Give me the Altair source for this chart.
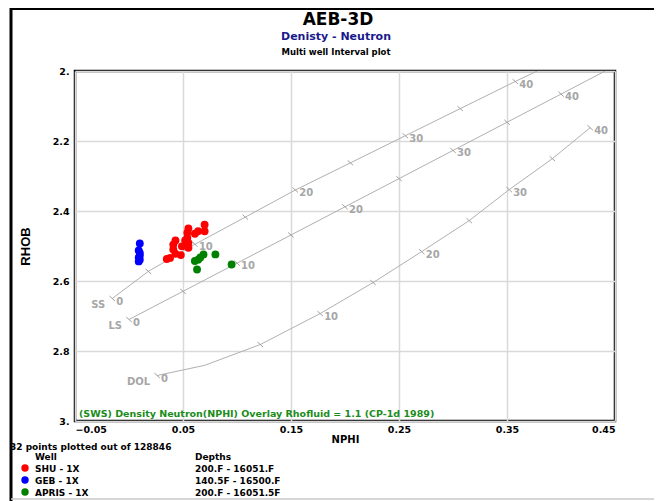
import altair as alt
import pandas as pd

FONT = "DejaVu Sans"
NARROW = "Liberation Sans Narrow, Liberation Sans"

# ---------------- data ----------------
well_names = ["SHU - 1X", "GEB - 1X", "APRIS - 1X"]
well_depths = ["200.F - 16051.F", "140.5F - 16500.F", "200.F - 16051.5F"]
well_colors = ["#ff0000", "#0000ff", "#008000"]

shu_nphi = [0.070, 0.055, 0.064, 0.070, 0.054, 0.061, 0.054, 0.052, 0.043, 0.055,
            0.041, 0.049, 0.055, 0.041, 0.043, 0.048, 0.035, 0.038]
shu_rhob = [2.439, 2.450, 2.458, 2.458, 2.462, 2.465, 2.477, 2.484, 2.484, 2.491,
            2.496, 2.501, 2.505, 2.510, 2.522, 2.526, 2.537, 2.534]
geb_nphi = [0.010, 0.009, 0.010, 0.010, 0.009, 0.010, 0.009]
geb_rhob = [2.493, 2.513, 2.520, 2.527, 2.533, 2.539, 2.544]
apris_nphi = [0.069, 0.080, 0.064, 0.061, 0.063, 0.095, 0.066]
apris_rhob = [2.524, 2.524, 2.539, 2.543, 2.567, 2.553, 2.533]

# overlay (CP-1d) lithology lines; por None = plain vertex without tick
ss_por = [0, 5, 10, 15, 20, 25, 30, 35, 40, None]
ss_nphi = [-0.0155, 0.0179, 0.061, 0.1077, 0.154, 0.205, 0.2558, 0.3067, 0.3576, 0.378]
ss_rhob = [2.65, 2.5725, 2.495, 2.4175, 2.34, 2.2625, 2.185, 2.1075, 2.03, 2.0]

ls_por = [0, 5, 10, 15, 20, 25, 30, 35, 40, None]
ls_nphi = [0.0, 0.05, 0.10, 0.15, 0.20, 0.25, 0.30, 0.35, 0.40, 0.441]
ls_rhob = [2.71, 2.6295, 2.549, 2.4685, 2.388, 2.3075, 2.227, 2.1465, 2.066, 2.0]

dol_por = [0, None, 5, 10, 15, 20, 25, 30, 35, 40]
dol_nphi = [0.026, 0.070, 0.1216, 0.177, 0.226, 0.271, 0.315, 0.352, 0.392, 0.427]
dol_rhob = [2.87, 2.841, 2.7815, 2.693, 2.6045, 2.516, 2.4275, 2.339, 2.2505, 2.162]

lith_names = ["SS", "LS", "DOL"]

x_ticks = [-0.05, 0.05, 0.15, 0.25, 0.35, 0.45]
y_ticks = [2.0, 2.2, 2.4, 2.6, 2.8, 3.0]

title_text = "AEB-3D"
subtitle_text = "Denisty - Neutron"
subtitle2_text = "Multi well Interval plot"
overlay_text = "(SWS) Density Neutron(NPHI) Overlay Rhofluid = 1.1 (CP-1d 1989)"
count_text = "32 points plotted out of 128846"

# ---------------- tables ----------------
rows = []
for name, xs_, ys_ in zip(well_names, [shu_nphi, geb_nphi, apris_nphi],
                          [shu_rhob, geb_rhob, apris_rhob]):
    for a, b in zip(xs_, ys_):
        rows.append({"well": name, "nphi": a, "rhob": b})
points = pd.DataFrame(rows)

orows = []
for lith, pors, xs_, ys_ in zip(lith_names, [ss_por, ls_por, dol_por],
                                [ss_nphi, ls_nphi, dol_nphi],
                                [ss_rhob, ls_rhob, dol_rhob]):
    for i, (p, a, b) in enumerate(zip(pors, xs_, ys_)):
        orows.append({
            "lith": lith, "seq": i, "nphi": a, "rhob": b,
            "tick": p is not None,
            "lab": (str(p) if (p is not None and p % 10 == 0) else ""),
            "name": (lith if p == 0 else ""),
        })
overlay = pd.DataFrame(orows)

# ---------------- encodings ----------------
xscale = alt.Scale(domain=[-0.05, 0.45], nice=False, zero=False)
yscale = alt.Scale(domain=[2.0, 3.0], reverse=True, nice=False, zero=False)
xaxis = alt.Axis(values=x_ticks, labelExpr="format(datum.value, '.2f')",
                 title="NPHI", titlePadding=1)
yaxis = alt.Axis(values=y_ticks,
                 labelExpr="datum.value == 2 ? '2.' : datum.value == 3 ? '3.' : format(datum.value, '.1f')",
                 title="RHOB", titleX=-50, titleY=175, titleAngle=270,
                 titleAlign="center", titleBaseline="middle",
                 titleFont=NARROW, titleFontSize=13)
X = alt.X("nphi:Q", scale=xscale, axis=xaxis)
Y = alt.Y("rhob:Q", scale=yscale, axis=yaxis)

GRAY = "#b0b0b0"
LABGRAY = "#a6a6a6"

lines = alt.Chart(overlay).mark_line(color=GRAY, strokeWidth=1, clip=True).encode(
    x=X, y=Y, detail="lith:N", order="seq:Q")

ticks = alt.Chart(overlay).transform_filter("datum.tick").mark_point(
    shape="M-1,-0.9L1,0.9", size=30, filled=False, color="#a0a0a0",
    strokeWidth=1, opacity=1).encode(x=X, y=Y)

tick_labels = alt.Chart(overlay).transform_filter("datum.lab != ''").mark_text(
    align="left", baseline="middle", dx=4, dy=3, font=FONT, fontWeight="bold",
    fontSize=10, color=LABGRAY).encode(x=X, y=Y, text="lab:N")

lith_labels = alt.Chart(overlay).transform_filter("datum.name != ''").mark_text(
    align="right", baseline="middle", dx=-7, dy=6, font=FONT, fontWeight="bold",
    fontSize=10, color=LABGRAY).encode(x=X, y=Y, text="name:N")

pts = alt.Chart(points).mark_circle(size=62, opacity=1).encode(
    x=X, y=Y,
    color=alt.Color("well:N", scale=alt.Scale(domain=well_names, range=well_colors),
                    legend=None))


def label(text, x, y, size, color="black", align="center", font=FONT, weight="bold"):
    return alt.Chart(pd.DataFrame({"t": [text]})).mark_text(
        align=align, baseline="middle", fontSize=size, font=font,
        fontWeight=weight, color=color).encode(
        x=alt.value(x), y=alt.value(y), text="t:N")


layers = [lines, ticks, tick_labels, lith_labels, pts,
          label(title_text, 263, -51, 17),
          label(subtitle_text, 261, -34, 11, color="#1a1a8c"),
          label(subtitle2_text, 261, -19, 8.5),
          label(overlay_text, 4, 343, 9.5, color="#1a8c1a", align="left"),
          label(count_text, -65, 376, 9, align="left"),
          label("Well", -40, 386, 9, align="left"),
          label("Depths", 120, 386, 9, align="left")]

for i, (n, d, c) in enumerate(zip(well_names, well_depths, well_colors)):
    yy = 398 + 12 * i
    layers.append(alt.Chart(pd.DataFrame({"t": [n]})).mark_circle(
        size=55, opacity=1, color=c).encode(x=alt.value(-50), y=alt.value(yy - 1)))
    layers.append(label(n, -40, yy, 9, align="left"))
    layers.append(label(d, 120, yy, 9, align="left"))

# page frame
frame_df = pd.DataFrame({"t": [0]})
layers.append(alt.Chart(frame_df).mark_rule(color="black", strokeWidth=3).encode(
    x=alt.value(-64), y=alt.value(-63), y2=alt.value(440)))
layers.append(alt.Chart(frame_df).mark_rule(color="black", strokeWidth=2).encode(
    x=alt.value(-65), x2=alt.value(600), y=alt.value(-62)))
layers.append(alt.Chart(frame_df).mark_rule(color="#c8c8c8", strokeWidth=1.5).encode(
    x=alt.value(-64), x2=alt.value(600), y=alt.value(428)))

chart = alt.layer(*layers).properties(
    width=540, height=350,
    autosize=alt.AutoSizeParams(type="none"),
    padding={"left": 67, "top": 63, "right": 39, "bottom": 80},
    background="white",
).configure_view(
    stroke="black", strokeWidth=2.5
).configure_axis(
    labelFont=FONT, labelFontWeight="bold", labelFontSize=9.5, labelColor="black",
    titleFont=FONT, titleFontWeight="bold", titleFontSize=10, titleColor="black",
    grid=True, gridColor="#d9d9d9", gridWidth=1.5,
    ticks=False, domain=False,
).configure_axisX(labelPadding=3).configure_axisY(labelPadding=6)

chart.save("out.html", embed_options={"renderer": "svg", "actions": False})
